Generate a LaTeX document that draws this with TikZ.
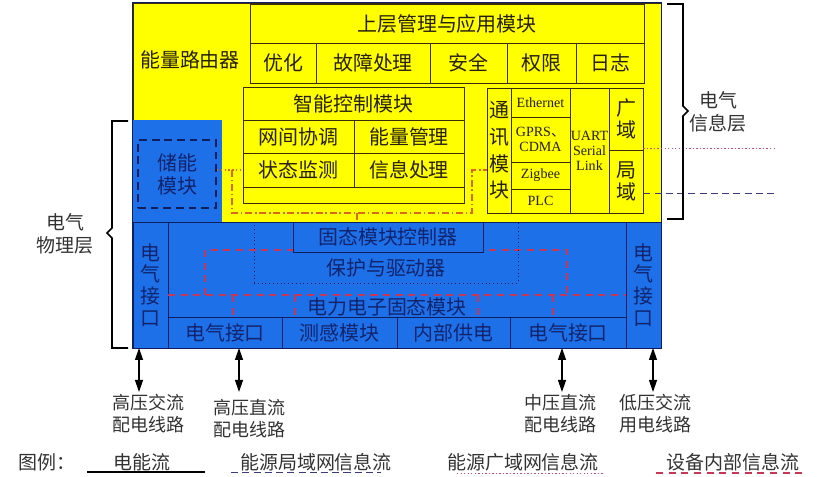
\documentclass[tikz,border=0pt]{standalone}
\usepackage{fontspec}
\setmainfont{Noto Sans CJK SC}
\newfontfamily\latinserif{Liberation Serif}
\usepackage{tikz}
\usetikzlibrary{arrows.meta}

\definecolor{ylw}{RGB}{255,255,0}
\definecolor{blu}{RGB}{30,112,232}
\definecolor{ydark}{RGB}{60,45,10}
\definecolor{ytext}{RGB}{40,32,10}
\definecolor{bdark}{RGB}{14,30,95}
\definecolor{btext}{RGB}{16,36,110}
\definecolor{lanc}{RGB}{60,60,125}
\definecolor{wanc}{RGB}{205,70,140}
\definecolor{devc}{RGB}{200,55,85}
\definecolor{ctlc}{RGB}{215,105,25}
\definecolor{lbltext}{RGB}{50,50,50}

\newcommand{\fsmain}{\fontsize{14.2pt}{19pt}\selectfont}
\newcommand{\fscol}{\fontsize{14.2pt}{15.5pt}\selectfont}
\newcommand{\fsstore}{\fontsize{14.2pt}{16.3pt}\selectfont}
\newcommand{\fslat}{\latinserif\fontsize{10pt}{10.7pt}\selectfont}
\newcommand{\fslab}{\fontsize{12.8pt}{15.6pt}\selectfont}
\newcommand{\fsleg}{\fontsize{13.5pt}{16pt}\selectfont}

\begin{document}
\begin{tikzpicture}[x=0.025cm, y=-0.025cm, >={Triangle[length=3mm,width=2mm]},
  cell/.style 2 args={minimum width=#1*0.025cm, minimum height=#2*0.025cm},
  ybox/.style={draw=ydark, fill=ylw, text=ytext, inner sep=0pt, line width=0.6pt, font=\fsmain},
  bbox/.style={draw=bdark, fill=blu, text=btext, inner sep=0pt, line width=0.6pt, font=\fsmain},
  lanflow/.style={draw=lanc, dash pattern=on 5pt off 3pt, line width=0.7pt},
  wanflow/.style={draw=wanc, dash pattern=on 1pt off 1.5pt, line width=0.7pt},
  devflow/.style={draw=devc, dash pattern=on 5pt off 4pt, line width=0.9pt},
  ctlflow/.style={draw=ctlc, dash pattern=on 5pt off 2pt on 1pt off 2pt, line width=0.8pt},
  brace/.style={draw=black, line width=1.2pt},
  power/.style={<->, line width=0.9pt},
  lbl/.style={font=\fslab, text=lbltext, align=center, inner sep=0pt}]

\useasboundingbox (0,0) rectangle (823,477);

% layers
\node[ybox, cell={528}{219}] (info) at (397,112.5) {};
\node[bbox, cell={528}{126}] (phys) at (397,285) {};
\node[bbox, draw=none, cell={89}{102}] (storebg) at (177.5,171) {};
\node[font=\fsmain, text=ytext] (router) at (190,60) {能量路由器};

% upper management
\node[ybox, cell={394}{39}] (app) at (447,23.5) {上层管理与应用模块};
\node[ybox, cell={66}{40}] (opt) at (283,63) {优化};
\node[ybox, cell={114}{40}] (fault) at (373,63) {故障处理};
\node[ybox, cell={77}{40}] (safe) at (468.5,63) {安全};
\node[ybox, cell={69}{40}] (auth) at (541.5,63) {权限};
\node[ybox, cell={68}{40}] (log) at (610,63) {日志};

% intelligent control
\node[ybox, cell={221}{33}] (ctrl) at (353.5,103.5) {智能控制模块};
\node[ybox, cell={111}{33}] (coord) at (298.5,136.5) {网间协调};
\node[ybox, cell={110}{33}] (emgr) at (409,136.5) {能量管理};
\node[ybox, cell={111}{34}] (mon) at (298.5,170) {状态监测};
\node[ybox, cell={110}{34}] (proc) at (409,170) {信息处理};
\node[ybox, cell={221}{16}] (ctrlb) at (353.5,195) {};

% communication
\node[ybox, align=center, cell={24}{125}] (comm) at (499,150.5) {通\\讯\\模\\块};
\node[ybox, font=\fslat, cell={59}{29}] (eth) at (540.5,102.5) {Ethernet};
\node[ybox, font=\fslat, align=center, cell={59}{45}] (gprs) at (540.5,139.5) {GPRS{\normalfont 、}\\CDMA};
\node[ybox, font=\fslat, cell={59}{27}] (zig) at (540.5,175.5) {Zigbee};
\node[ybox, font=\fslat, cell={59}{24}] (plc) at (540.5,201) {PLC};
\node[ybox, font=\fslat, align=center, cell={39}{125}] (uart) at (589.5,150.5) {UART\\Serial\\Link};
\node[ybox, font=\fscol, align=center, cell={34}{62}] (wan) at (626,119) {广\\域};
\node[ybox, font=\fscol, align=center, cell={34}{63}] (lan) at (626,181.5) {局\\域};

% storage
\node[draw=bdark, dash pattern=on 5.5pt off 3.5pt, line width=0.9pt, text=btext, font=\fsstore, align=center, inner sep=0pt, cell={78}{68}] (store) at (177,174) {储能\\模块};

% internal control flow
\draw[ctlflow, dotted] (store.east |- mon.west) -- (mon.west);
\coordinate (cl) at (232,213);
\coordinate (cr) at (472,213);
\coordinate (cd) at (357,213);
\draw[ctlflow] (cl |- mon.west) -- (cl) -- (cr) -- (cr |- mon.west) -- (comm.west |- mon.west);

% physical layer
\node[bbox, font=\fscol, align=center, cell={35}{126}] (lport) at (150.5,285) {电\\气\\接\\口};
\node[bbox, font=\fscol, align=center, cell={35}{126}] (rport) at (643.5,285) {电\\气\\接\\口};
\node[bbox, cell={114}{31}] (port1) at (225,332.5) {电气接口};
\node[bbox, cell={115}{31}] (sense) at (339.5,332.5) {测感模块};
\node[bbox, cell={113}{31}] (supply) at (453.5,332.5) {内部供电};
\node[bbox, cell={116}{31}] (port2) at (568,332.5) {电气接口};

\coordinate (busl) at (168,295);
\coordinate (busr) at (626,295);
\coordinate (loopl) at (205,250);
\coordinate (loopr) at (567,250);
\draw[devflow] (busl) -- (busr);
\draw[devflow] (loopl |- busl) -- (loopl) -- (loopr) -- (loopr |- busr);
\foreach \x in {233,295,478,553}
  \draw[devflow] (\x,295) -- (\x,317);

\node[draw=bdark, dotted, line width=0.7pt, inner sep=0pt, cell={264}{61}] (drv) at (386,252.5) {};
\node[font=\fsmain, text=btext] (drvlbl) at (386,268) {保护与驱动器};
\node[bbox, cell={190}{30}] (ssc) at (388,237) {固态模块控制器};
\draw[ctlflow] (cd) -- (cd |- ssc.north);
\node[font=\fsmain, text=btext] (pe) at (387,307) {电力电子固态模块};

\draw[bdark, line width=0.8pt] (info.north west) rectangle (phys.south east);

% outgoing information lines
\coordinate (wanend) at (775,148);
\coordinate (lanend) at (775,193);
\draw[wanflow] (wan.east |- wanend) -- (wanend);
\draw[lanflow] (lan.east |- lanend) -- (lanend);

% layer braces
\draw[brace] (667,4) -- (683,4) -- (683,106) -- (688,111) -- (683,116) -- (683,219) -- (667,219);
\node[lbl, font=\fsleg] (infolbl) at (718,112) {电气\\信息层};
\draw[brace] (128,121) -- (112,121) -- (112,228) -- (107,233) -- (112,238) -- (112,348) -- (128,348);
\node[lbl, font=\fsleg] (physlbl) at (65,234) {电气\\物理层};

% power lines
\foreach \x/\n in {139/1, 239/2, 562/3, 653/4} {
  \coordinate (top\n) at (\x,348);
  \coordinate (bot\n) at (\x,392);
  \draw[power] (top\n) -- (bot\n);
}
\node[lbl] (hvac) at (148,414) {高压交流\\配电线路};
\node[lbl] (hvdc) at (249,419) {高压直流\\配电线路};
\node[lbl] (mvdc) at (560,414) {中压直流\\配电线路};
\node[lbl] (lvac) at (655,414) {低压交流\\用电线路};

% legend
\node[lbl, font=\fsleg, anchor=west] (legend) at (18,462) {图例：};
\node[lbl, font=\fsleg] (leg1) at (142,462) {电能流};
\node[lbl, font=\fsleg] (leg2) at (316,462) {能源局域网信息流};
\node[lbl, font=\fsleg] (leg3) at (523,462) {能源广域网信息流};
\node[lbl, font=\fsleg] (leg4) at (733,462) {设备内部信息流};
\draw[black, line width=1.3pt] (87,472) -- (205,472);
\draw[lanflow] (231,472) -- (381,472);
\draw[wanflow] (457,473) -- (604,473);
\draw[devflow] (656,473) -- (803,473);

\end{tikzpicture}
\end{document}
